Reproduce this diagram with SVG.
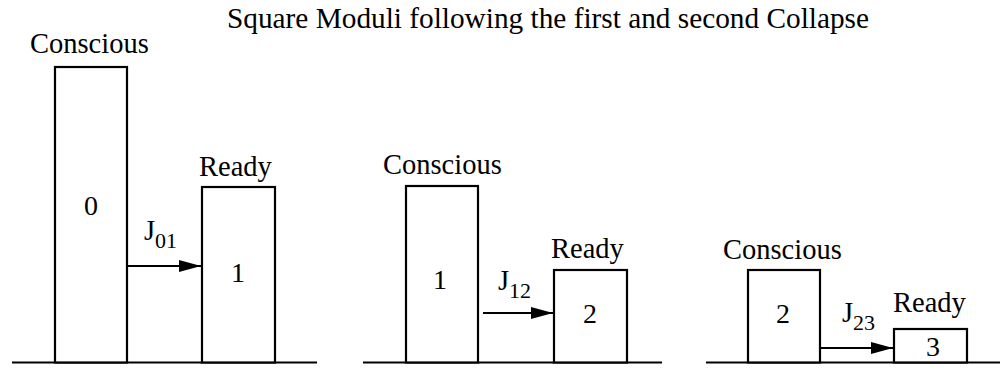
<svg xmlns="http://www.w3.org/2000/svg" width="1002" height="368" viewBox="0 0 1002 368">
<style>
text{font-family:"Liberation Serif","Times New Roman",serif;fill:#000}
.lbl{font-size:28.5px}
.num{font-size:28px;text-anchor:middle}
.ttl{font-size:29.3px}
.sub{font-size:22px}
.box{fill:#fff;stroke:#000;stroke-width:2.2}
.base{stroke:#000;stroke-width:2.2;fill:none}
.arr{stroke:#000;stroke-width:2;fill:none;marker-end:url(#ah)}
</style>
<defs>
<marker id="ah" markerUnits="userSpaceOnUse" markerWidth="24" markerHeight="12" refX="22" refY="6" orient="auto">
<path d="M0,0 L22,6 L0,12 Z" fill="#000"/>
</marker>
</defs>
<rect width="1002" height="368" fill="#fff"/>
<text class="ttl" x="227" y="28">Square Moduli following the first and second Collapse</text>
<g id="baselines">
<line class="base" x1="12" y1="362.5" x2="317" y2="362.5"/>
<line class="base" x1="363" y1="362.5" x2="662" y2="362.5"/>
<line class="base" x1="706" y1="362.5" x2="1000" y2="362.5"/>
</g>
<g id="c0">
<rect class="box" x="55" y="67" width="72" height="295.5"/>
<text class="lbl" x="30" y="53">Conscious</text>
<text class="num" x="91" y="215">0</text>
</g>
<g id="r1">
<rect class="box" x="202" y="187" width="73" height="175.5"/>
<text class="lbl" x="199" y="176">Ready</text>
<text class="num" x="238" y="282">1</text>
</g>
<g id="c1">
<rect class="box" x="406" y="186" width="72" height="176.5"/>
<text class="lbl" x="383" y="174">Conscious</text>
<text class="num" x="440" y="289">1</text>
</g>
<g id="r2">
<rect class="box" x="554" y="270" width="73" height="92.5"/>
<text class="lbl" x="551" y="258">Ready</text>
<text class="num" x="590" y="323">2</text>
</g>
<g id="c2">
<rect class="box" x="748" y="270" width="72" height="92.5"/>
<text class="lbl" x="723" y="259">Conscious</text>
<text class="num" x="783" y="323">2</text>
</g>
<g id="r3">
<rect class="box" x="894" y="329" width="73" height="33.5"/>
<text class="lbl" x="893" y="312">Ready</text>
<text class="num" x="933" y="356">3</text>
</g>
<g id="connectors">
<line class="arr" x1="127" y1="266" x2="201" y2="266"/>
<line class="arr" x1="483" y1="313" x2="553" y2="313"/>
<line class="arr" x1="820" y1="348" x2="893" y2="348"/>
<text class="lbl" x="144" y="240">J<tspan class="sub" dy="8">01</tspan></text>
<text class="lbl" x="498" y="290">J<tspan class="sub" dy="8">12</tspan></text>
<text class="lbl" x="842" y="322">J<tspan class="sub" dy="8">23</tspan></text>
</g>
</svg>
